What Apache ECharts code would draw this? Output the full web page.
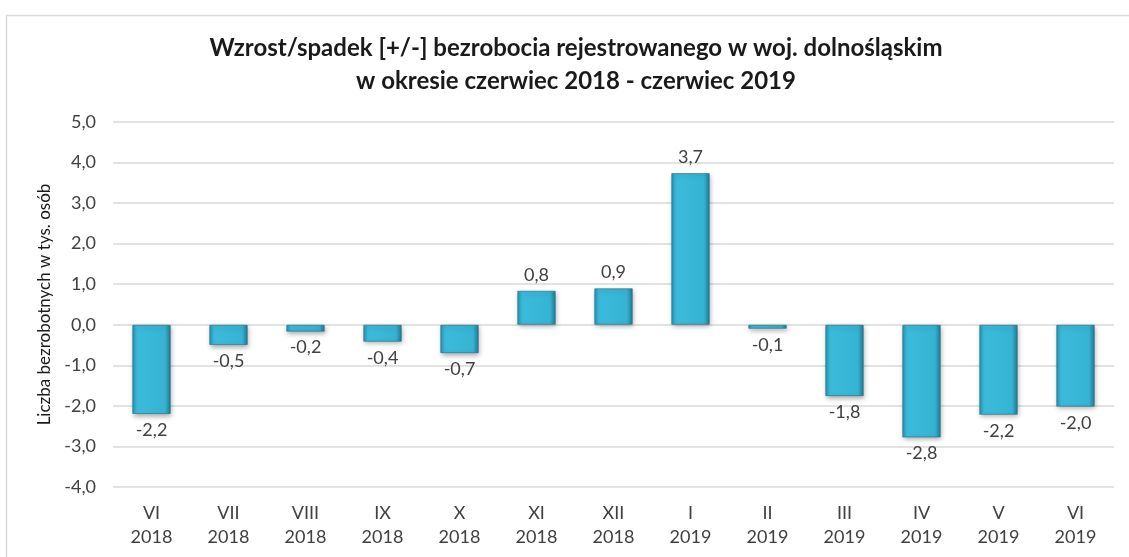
<!DOCTYPE html>
<html><head><meta charset="utf-8">
<script src="https://cdn.jsdelivr.net/npm/echarts@6/dist/echarts.min.js"></script>
<style>html,body{margin:0;padding:0;background:#fff}#c{width:1129px;height:557px}</style>
</head><body><div id="c"></div>
<script>
var months = ['VI','VII','VIII','IX','X','XI','XII','I','II','III','IV','V','VI'];
var years = ['2018','2018','2018','2018','2018','2018','2018','2019','2019','2019','2019','2019','2019'];
var values = [-2.2,-0.5,-0.17,-0.42,-0.7,0.84,0.9,3.74,-0.1,-1.76,-2.78,-2.22,-2.02];
var yTicks = [-4,-3,-2,-1,0,1,2,3,4,5];
var titleText = 'Wzrost/spadek [+/-] bezrobocia rejestrowanego w woj. dolnośląskim\nw okresie czerwiec 2018 - czerwiec 2019';
var yName = 'Liczba bezrobotnych w tys. osób';

var categories = months.map(function(m,i){return m+'\n'+years[i];});
var FONT = 'Lato, "Open Sans", sans-serif';
var fmt = function(v){return Number(v).toFixed(1).replace('.', ',');};
var barColor = new echarts.graphic.LinearGradient(0,0,1,0,[
  {offset:0,color:'#2690ad'},{offset:0.12,color:'#3bbbdb'},
  {offset:0.85,color:'#36b3d3'},{offset:1,color:'#1f7a93'}]);
var chart = echarts.init(document.getElementById('c'));
chart.setOption({
  animation:false,
  backgroundColor:'#fff',
  graphic:[{type:'rect',shape:{x:6.5,y:15.5,width:1140,height:560},style:{fill:'none',stroke:'#d9d9d9',lineWidth:1.5},silent:true}],
  title:{text:titleText,left:571,top:27,textAlign:'center',
    textStyle:{fontFamily:FONT,fontWeight:'bold',fontSize:24,color:'#1a1a1a',lineHeight:33}},
  grid:{left:113,right:15,top:122,bottom:70},
  xAxis:{type:'category',data:categories,
    axisLine:{show:false},axisTick:{show:false},
    axisLabel:{fontFamily:FONT,fontSize:18,color:'#404040',lineHeight:24,margin:14}},
  yAxis:{type:'value',min:yTicks[0],max:yTicks[yTicks.length-1],interval:1,
    name:yName,nameLocation:'middle',nameGap:58,
    nameTextStyle:{fontFamily:FONT,fontSize:17,color:'#1a1a1a'},
    axisLabel:{formatter:fmt,fontFamily:FONT,fontSize:18,color:'#404040',margin:17},
    splitLine:{lineStyle:{color:'#d9d9d9',width:1.5}},
    axisLine:{show:false},axisTick:{show:false}},
  series:[{type:'bar',barWidth:'50%',
    data:values.map(function(v){return {value:v,label:{position:v<0?'bottom':'top'}};}),
    itemStyle:{color:barColor,borderColor:'rgba(30,110,135,0.6)',borderWidth:1,
      shadowColor:'rgba(0,0,0,0.35)',shadowBlur:5,shadowOffsetX:1,shadowOffsetY:2},
    label:{show:true,distance:7,formatter:function(p){return fmt(p.value);},
      fontFamily:FONT,fontSize:18,color:'#404040'}}]
});
</script></body></html>
